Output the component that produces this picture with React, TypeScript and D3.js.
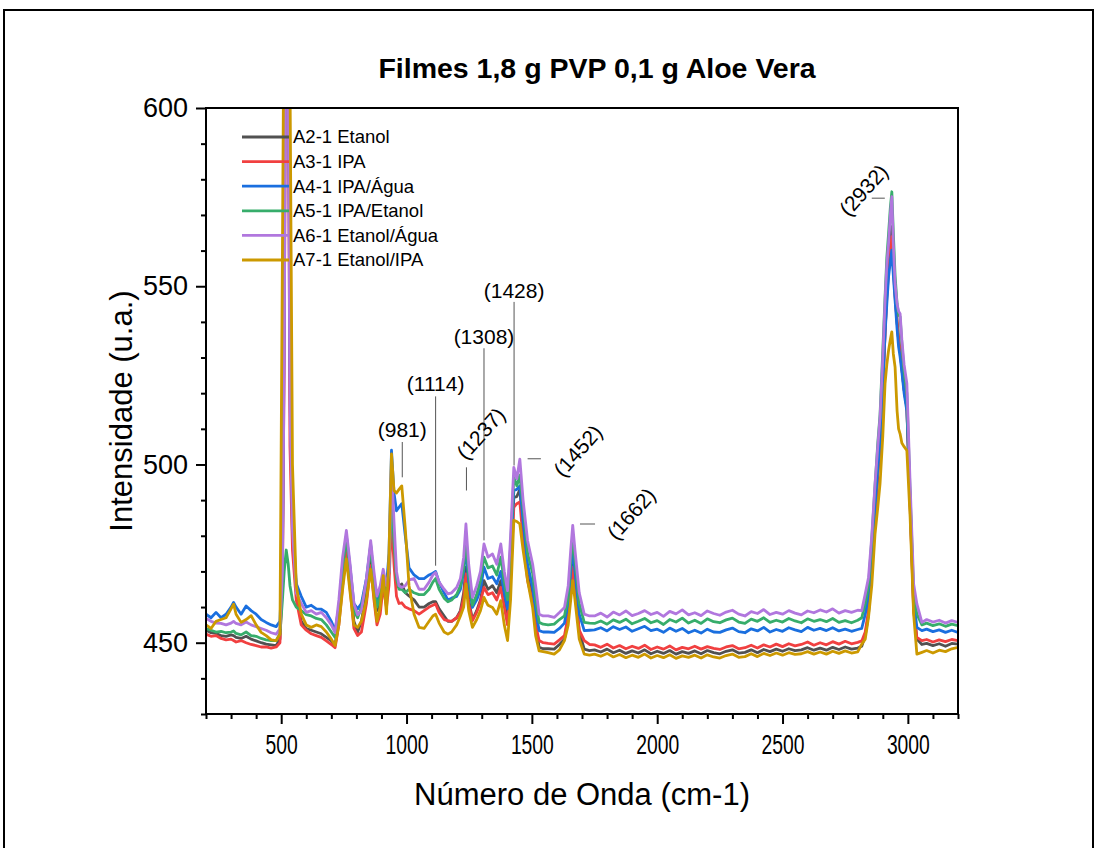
import React, { useRef, useEffect } from "react";
import * as d3 from "d3";

// wavenumber grid (cm-1) shared by every spectrum
const WAVENUMBERS = [
  200, 220, 240, 260, 280, 300, 310, 320, 340, 360, 380, 400, 420, 440, 460, 480, 495,
  505, 512, 520, 528, 535, 545, 560,
  580, 600, 620, 640, 660, 680, 700, 715,
  730, 745, 760, 775, 790, 805, 820, 840, 857, 870, 882, 895, 907, 920, 930, 940, 950, 960, 970, 981, 995, 1010, 1030, 1050,
  1070, 1090, 1105, 1116, 1130, 1150, 1165, 1180, 1200, 1215, 1228, 1237, 1248, 1263, 1280, 1295, 1309, 1325, 1343, 1360, 1376, 1390,
  1403, 1415, 1428, 1440, 1452, 1465, 1483, 1503, 1515, 1529, 1545, 1565, 1589, 1610, 1630, 1645, 1655, 1663, 1672, 1689, 1709, 1730,
  1750, 1775, 1800, 1825, 1850, 1875, 1900, 1925, 1950, 1975, 2000, 2025, 2050, 2075, 2100, 2125, 2150, 2175, 2200, 2225, 2250, 2275,
  2300, 2325, 2350, 2375, 2400, 2425, 2450, 2475, 2500, 2525, 2550, 2575, 2600, 2625, 2650, 2675, 2700, 2725, 2750, 2775, 2800,
  2816, 2830, 2843, 2856, 2869, 2880, 2889, 2900, 2909, 2916, 2923, 2930, 2936, 2942, 2949, 2957, 2963, 2969, 2976, 2985,
  2996, 3009, 3023, 3036, 3056, 3075, 3100, 3125, 3150, 3175, 3200,
];

const A2_ETANOL = [
  453.5, 452.8, 452.6, 452, 451.8, 452.2, 452, 451.5, 451.2, 451.8, 451, 450.5, 450, 449.6, 449.4, 449.2, 451,
  470, 540, 680, 640, 520, 480, 466,
  456, 454, 453.5, 453, 452.5, 451.5, 450.5, 449.5,
  456, 468, 479.5, 468, 456, 453, 456, 464, 474.8, 465, 459, 461, 469, 462, 470, 490, 476, 466, 465.5, 466.5, 464, 463.1, 462, 460,
  460, 461, 461.5, 461.5, 459.5, 457.5, 456, 456, 457, 459, 464, 471.2, 462, 456.5, 459, 462, 467.4, 465, 466, 464, 467.4, 462,
  456, 470, 490.8, 491, 493, 482, 469, 463, 455, 448.7, 448.3, 448.3, 448.2, 449.5, 451, 457, 466, 472.6, 466, 453, 448.2, 447.8,
  448.0, 447.4, 448.2, 447.2, 447.9, 447.0, 447.7, 447.1, 448.0, 446.9, 447.6, 447.0, 447.8, 446.8, 447.5, 447.0, 447.7, 446.9, 447.8, 447.2, 446.9, 447.6,
  448.0, 447.1, 447.3, 448.0, 447.2, 448.1, 447.5, 448.2, 447.6, 448.3, 447.8, 448.0, 448.6, 447.9, 448.5, 447.9, 448.7, 448.1, 448.8, 448.2, 448.5,
  449, 452, 458, 470, 485, 497, 505, 521, 537, 548, 556, 562, 566.7, 557, 548, 540, 535, 532, 527, 521,
  516, 489, 460, 451, 449.5, 449.8, 449.2, 449.7, 449.0, 449.8, 449.6,
];

const A3_IPA = [
  452.4, 451.8, 452, 451.2, 450.8, 451, 450.6, 450.2, 450.6, 450, 449.5, 449.2, 448.8, 448.8, 448.5, 448.8, 450,
  468, 530, 660, 620, 505, 476, 462,
  455, 453.5, 452.5, 452, 451.5, 450.5, 449.5, 448.6,
  455, 466, 475.8, 465, 454, 452, 453, 461, 471.6, 462, 455, 458, 466, 459.9, 466, 485, 472, 463, 461, 461.2, 460, 459.5, 459, 458,
  459, 460, 460.5, 460.9, 458.5, 456.5, 456.2, 456, 457, 458.5, 462.5, 469.3, 461, 456.2, 458.5, 461.5, 465.5, 463.5, 464, 462, 465.5, 460,
  455, 468, 488, 489, 489.5, 479, 467.4, 461.5, 455, 450.6, 450, 449.8, 449.6, 450.8, 452, 457.5, 465.5, 471.2, 465, 453.5, 450.6, 449.5,
  449.4, 448.7, 449.6, 448.5, 449.2, 448.3, 449.0, 448.4, 449.3, 448.1, 448.8, 448.2, 449.1, 448.0, 448.7, 448.3, 449.0, 448.2, 448.9, 448.4, 448.1, 448.8,
  449.2, 448.3, 448.6, 449.3, 448.5, 449.4, 448.8, 449.6, 448.9, 449.7, 449.1, 449.5, 450.2, 449.3, 450.0, 449.4, 450.3, 449.6, 450.4, 449.7, 450.1,
  450.5, 453, 459, 471, 486, 498, 506, 522, 537, 547, 554, 560, 563.9, 555, 547, 540, 535, 532, 527, 521,
  516, 488, 459, 451.5, 450.6, 450.9, 450.2, 450.8, 450.3, 450.9, 450.6,
];

const A4_IPA_AGUA = [
  458, 457, 458.5, 457, 458, 460, 461.3, 460, 458, 460.3, 459, 458, 456.5, 455.7, 455, 454.5, 456,
  475, 550, 700, 650, 530, 485, 466.6,
  463, 460, 460.5, 459.5, 459.4, 458.5, 456, 453.4,
  460, 472, 480, 471, 461, 459.5, 461, 468, 477.5, 468, 461, 464, 469, 466, 475, 504, 492, 487, 488, 489, 480, 471, 469, 468,
  468, 469, 469.5, 470, 467, 464, 462, 462.5, 463, 465, 470, 476.8, 467, 459.9, 462, 465, 471.2, 468, 468.5, 466.5, 470, 464,
  459.5, 474, 492.7, 493, 494, 484, 472, 465.5, 459, 453.4, 453, 453, 452.9, 454, 455.5, 461, 470, 476.8, 470, 458, 453.4, 453.5,
  453.6, 454.2, 453.3, 454.5, 453.7, 454.4, 453.2, 453.9, 454.6, 453.4, 453.8, 452.9, 454.1, 453.2, 454.0, 452.8, 453.5, 452.7, 453.8, 453.0, 452.9, 453.6,
  454.1, 453.1, 452.8, 453.9, 453.3, 454.3, 453.0, 453.7, 453.2, 454.2, 453.6, 453.1, 454.3, 453.5, 454.0, 453.4, 454.2, 453.3, 453.8, 453.2, 453.7,
  454, 458, 463, 474, 488, 499, 506, 522, 536.7, 545, 552.6, 557, 560.1, 553, 546, 538, 533, 530.2, 526, 520,
  515, 490, 462, 454.3, 453.4, 453.8, 453.1, 453.6, 452.9, 453.5, 452.9,
];

const A5_IPA_ETANOL = [
  454, 453.5, 453, 453.2, 452.8, 453, 453.3, 452.6, 452.2, 453, 452, 451.8, 451.2, 450.8, 450.6, 450.6, 452.5,
  462, 470, 476, 472, 466, 462, 460,
  459, 457.9, 457.5, 456.8, 456.5, 455, 453, 451.5,
  459, 471, 479.5, 470, 459, 457, 460, 467, 477, 467, 460, 463, 469, 464, 470, 492, 478, 468, 465, 465, 464, 465, 464, 463.5,
  463.5, 465, 467, 468, 465, 462.5, 461.5, 462, 463.5, 466, 471, 479.6, 469, 460.5, 463.5, 467.5, 474, 471, 471.5, 469, 474, 467,
  462, 477, 496.4, 494, 497, 488, 475, 469.5, 462, 455.7, 455.2, 455, 455.2, 456.5, 457.5, 463, 473, 479.6, 473, 461, 455.7, 455.5,
  455.4, 456.1, 455.2, 456.4, 455.7, 456.6, 455.3, 456.0, 456.8, 455.6, 456.2, 455.1, 456.5, 455.8, 456.9, 455.5, 456.3, 455.4, 456.7, 455.9, 455.6, 456.4,
  456.9, 455.8, 455.4, 456.6, 456.0, 457.0, 455.7, 456.3, 455.8, 456.8, 456.1, 455.6, 456.7, 456.0, 456.5, 455.9, 456.8, 455.7, 456.2, 455.6, 456.3,
  457, 461, 466, 479, 494, 506, 514, 532, 547, 558, 564.8, 572, 576.5, 565, 553, 545, 542, 541.4, 534, 526,
  520, 492, 464, 458, 455, 455.5, 454.8, 455.3, 454.6, 455.2, 454.8,
];

const A6_ETANOL_AGUA = [
  456.8, 456, 455.5, 455.4, 455, 455.5, 456, 455.4, 455, 455.8, 455, 454.5, 454, 453.5, 452.8, 452.4, 454,
  470, 530, 650, 610, 515, 482, 464,
  461, 458.5, 459, 458, 458.5, 457, 455, 452.8,
  462, 474, 481.5, 472, 461, 457.8, 459, 468, 478.6, 470, 463.1, 466, 470.6, 466, 470, 500, 484, 470, 466, 465.5, 466, 467.6, 468, 465,
  465, 467, 469, 469.7, 467, 465, 463.7, 464, 465.5, 468, 474, 483.3, 472, 462.7, 466, 470, 477.7, 474, 474.9, 472, 477.7, 470,
  464.6, 480, 499.2, 496, 501.5, 490, 478.6, 472.1, 466, 458, 457.5, 457.5, 457.1, 458.5, 459.9, 466, 476, 482.9, 476, 464, 458, 457.5,
  457.5, 458.3, 457.2, 458.6, 457.8, 458.9, 457.6, 458.2, 459.0, 457.9, 458.5, 457.4, 458.8, 458.1, 459.2, 457.8, 458.4, 457.6, 458.9, 458.2, 457.7, 458.6,
  459.1, 458.0, 457.5, 458.7, 458.2, 459.3, 457.9, 458.5, 458.0, 459.0, 458.3, 457.8, 458.9, 458.4, 459.2, 458.6, 459.5, 458.3, 459.0, 458.5, 459.1,
  459, 463.7, 468.3, 480, 494.6, 505, 513.3, 530, 546, 556, 562, 570, 575.1, 562, 550.7, 545, 543, 542.3, 535, 528,
  522.7, 494.6, 466.5, 460.9, 455.7, 456.5, 455.8, 456.3, 455.5, 456.2, 455.7,
];

const A7_ETANOL_IPA = [
  455, 454, 456, 456.5, 457, 459.5, 460.8, 458, 455.7, 456.5, 457.6, 455, 452.9, 452, 450.8, 450.6, 452.4,
  560, 640, 760, 700, 610, 500, 466,
  458, 455, 454.3, 455, 454.5, 453, 451, 449.2,
  455, 465, 473.5, 464, 455, 454.3, 456, 462, 470.6, 463, 456, 460, 468.8, 458.1, 475, 503, 492.7, 492, 493, 494, 482, 466, 458, 454.3,
  454, 456, 457.5, 458, 455.5, 453, 452.4, 453, 455, 457.5, 460, 466.5, 459, 454.3, 456.5, 459, 462.7, 460.5, 459.9, 458, 461.8, 455,
  450.6, 462, 484.3, 484, 483.3, 476, 467.4, 459.9, 452, 447.7, 447.5, 447.2, 446.8, 448, 450.6, 455, 462, 467.4, 462, 451, 446.8, 446.5,
  446.8, 446.2, 447.0, 446.0, 446.7, 445.8, 446.5, 445.9, 446.8, 445.7, 446.4, 445.8, 446.6, 445.6, 446.3, 445.9, 446.5, 445.7, 446.6, 446.0, 445.7, 446.4,
  446.8, 445.9, 446.1, 446.9, 446.1, 447.0, 446.4, 447.1, 446.5, 447.2, 446.7, 446.9, 447.5, 446.8, 447.4, 446.8, 447.6, 447.0, 447.7, 447.1, 447.4,
  449.6, 451, 457.1, 466, 480.5, 488, 494.6, 508, 522.7, 528, 532, 535, 537.2, 531, 527.3, 515, 510, 508.6, 506, 505,
  503.9, 485.2, 458, 446.8, 447.3, 447.8, 447.1, 447.9, 447.5, 448.3, 448.7,
];

const SERIES_NAMES = [
  "A2-1 Etanol",
  "A3-1 IPA",
  "A4-1 IPA/Água",
  "A5-1 IPA/Etanol",
  "A6-1 Etanol/Água",
  "A7-1 Etanol/IPA",
];
const SERIES_VALUES = [A2_ETANOL, A3_IPA, A4_IPA_AGUA, A5_IPA_ETANOL, A6_ETANOL_AGUA, A7_ETANOL_IPA];
const SERIES_COLORS = ["#515151", "#F14040", "#1A6FDF", "#37AD6B", "#B177DE", "#CC9900"];

const X_TICKS = [500, 1000, 1500, 2000, 2500, 3000];
const Y_TICKS = [450, 500, 550, 600];

// peak labels: leader line (x1,y1)-(x2,y2) and text centre (tx,ty), all in data units
const PEAK_LABELS = [
  { label: "(981)", x1: 983, y1: 496.4, x2: 983, y2: 506.3, tx: 983, ty: 509.8, angle: 0 },
  { label: "(1114)", x1: 1116, y1: 471.6, x2: 1116, y2: 519.1, tx: 1116, ty: 522.8, angle: 0 },
  { label: "(1237)", x1: 1239, y1: 492.7, x2: 1239, y2: 499.2, tx: 1296, ty: 508.7, angle: -48 },
  { label: "(1308)", x1: 1309, y1: 478.7, x2: 1309, y2: 532.6, tx: 1309, ty: 536, angle: 0 },
  { label: "(1428)", x1: 1429, y1: 499.7, x2: 1429, y2: 545.6, tx: 1429, ty: 548.9, angle: 0 },
  { label: "(1452)", x1: 1483, y1: 501.6, x2: 1536, y2: 501.6, tx: 1683, ty: 503.9, angle: -48 },
  { label: "(1662)", x1: 1692, y1: 483.3, x2: 1752, y2: 483.3, tx: 1896, ty: 486.2, angle: -48 },
  { label: "(2932)", x1: 2856, y1: 574.7, x2: 2908, y2: 574.7, tx: 2823, ty: 577, angle: -48 },
];

const FONT = "'Liberation Sans', Arial, sans-serif";

const App = () => {
  const container = useRef(null);

  const width = 1097;
  const height = 848;
  // plot box in page pixels
  const left = 206;
  const right = 958;
  const top = 108;
  const bottom = 714;

  useEffect(() => {
    const svg = d3.select(container.current);
    svg.selectAll("*").remove();

    const xScale = d3.scaleLinear().domain([200, 3200]).range([left, right]);
    const yScale = d3.scaleLinear().domain([430, 600]).range([bottom, top]);

    // outer frame
    svg
      .append("path")
      .attr("d", `M4,${height} L4,10 L1093,10 L1093,${height}`)
      .attr("fill", "none")
      .attr("stroke", "#000")
      .attr("stroke-width", 2);

    svg
      .append("defs")
      .append("clipPath")
      .attr("id", "plot-clip")
      .append("rect")
      .attr("x", left)
      .attr("y", top)
      .attr("width", right - left)
      .attr("height", bottom - top);

    // spectra
    const line = d3
      .line()
      .x((d) => xScale(d[0]))
      .y((d) => yScale(d[1]));

    svg
      .append("g")
      .attr("clip-path", "url(#plot-clip)")
      .selectAll("path")
      .data(SERIES_VALUES)
      .enter()
      .append("path")
      .attr("d", (vals) => line(vals.map((v, i) => [WAVENUMBERS[i], v])))
      .attr("fill", "none")
      .attr("stroke", (d, i) => SERIES_COLORS[i])
      .attr("stroke-width", 2.8)
      .attr("stroke-linejoin", "round");

    // plot box
    svg
      .append("rect")
      .attr("x", left)
      .attr("y", top)
      .attr("width", right - left)
      .attr("height", bottom - top)
      .attr("fill", "none")
      .attr("stroke", "#000")
      .attr("stroke-width", 2);

    // axes
    const xMinor = d3.range(200, 3201, 100).filter((v) => v % 500 !== 0);
    const yMinor = d3.range(430, 601, 10).filter((v) => v % 50 !== 0);

    const xAxis = svg
      .append("g")
      .attr("transform", `translate(0, ${bottom})`)
      .call(
        d3
          .axisBottom(xScale)
          .tickValues(X_TICKS)
          .tickSize(10)
          .tickSizeOuter(0)
          .tickPadding(10)
          .tickFormat(d3.format("d"))
      );
    svg
      .append("g")
      .attr("transform", `translate(0, ${bottom})`)
      .call(d3.axisBottom(xScale).tickValues(xMinor).tickSize(5).tickSizeOuter(0).tickFormat(() => ""));

    const yAxis = svg
      .append("g")
      .attr("transform", `translate(${left}, 0)`)
      .call(d3.axisLeft(yScale).tickValues(Y_TICKS).tickSize(10).tickSizeOuter(0).tickPadding(8));
    svg
      .append("g")
      .attr("transform", `translate(${left}, 0)`)
      .call(d3.axisLeft(yScale).tickValues(yMinor).tickSize(5).tickSizeOuter(0).tickFormat(() => ""));

    svg.selectAll(".domain").remove();
    svg.selectAll(".tick line").attr("stroke", "#000").attr("stroke-width", 2);

    xAxis
      .selectAll("text")
      .style("font-family", FONT)
      .style("font-size", "28px")
      .attr("fill", "#000")
      .attr("transform", "scale(0.69,1)");
    yAxis
      .selectAll("text")
      .style("font-family", FONT)
      .style("font-size", "27px")
      .attr("fill", "#000");

    // titles
    svg
      .append("text")
      .attr("x", 597)
      .attr("y", 78)
      .attr("text-anchor", "middle")
      .style("font-family", FONT)
      .style("font-size", "28.5px")
      .style("font-weight", "bold")
      .text("Filmes 1,8 g PVP 0,1 g Aloe Vera");

    svg
      .append("text")
      .attr("x", (left + right) / 2)
      .attr("y", 805)
      .attr("text-anchor", "middle")
      .style("font-family", FONT)
      .style("font-size", "31px")
      .text("Número de Onda (cm-1)");

    svg
      .append("text")
      .attr("transform", `translate(132, ${(top + bottom) / 2}) rotate(-90)`)
      .attr("text-anchor", "middle")
      .style("font-family", FONT)
      .style("font-size", "31px")
      .text("Intensidade (u.a.)");

    // legend
    const legend = svg.append("g").attr("transform", `translate(242, 137)`);
    const rows = legend
      .selectAll("g")
      .data(SERIES_NAMES)
      .enter()
      .append("g")
      .attr("transform", (d, i) => `translate(0, ${i * 24.6})`);
    rows
      .append("line")
      .attr("x1", 0)
      .attr("x2", 47)
      .attr("stroke", (d, i) => SERIES_COLORS[i])
      .attr("stroke-width", 2.8);
    rows
      .append("text")
      .attr("x", 51)
      .attr("dy", "0.35em")
      .style("font-family", FONT)
      .style("font-size", "18.5px")
      .text((d) => d);

    // peak annotations
    const notes = svg.append("g");
    notes
      .selectAll("line")
      .data(PEAK_LABELS)
      .enter()
      .append("line")
      .attr("x1", (d) => xScale(d.x1))
      .attr("y1", (d) => yScale(d.y1))
      .attr("x2", (d) => xScale(d.x2))
      .attr("y2", (d) => yScale(d.y2))
      .attr("stroke", "#555")
      .attr("stroke-width", 1);
    notes
      .selectAll("text")
      .data(PEAK_LABELS)
      .enter()
      .append("text")
      .attr("x", (d) => xScale(d.tx))
      .attr("y", (d) => yScale(d.ty))
      .attr("text-anchor", "middle")
      .attr("dominant-baseline", "central")
      .attr("transform", (d) => `rotate(${d.angle}, ${xScale(d.tx)}, ${yScale(d.ty)})`)
      .style("font-family", FONT)
      .style("font-size", "21px")
      .text((d) => d.label);
  }, []);

  return (
    <svg
      ref={container}
      width={width}
      height={height}
      style={{ position: "absolute", left: 0, top: 0, background: "#fff" }}
    />
  );
};

export default App;
